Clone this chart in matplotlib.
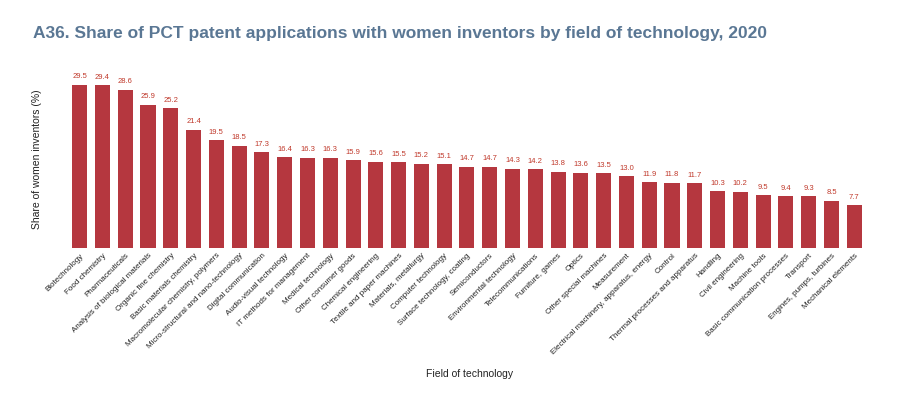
import matplotlib
matplotlib.use("Agg")
import matplotlib.pyplot as plt

fields = [
    "Biotechnology", "Food chemistry", "Pharmaceuticals",
    "Analysis of biological materials", "Organic fine chemistry",
    "Basic materials chemistry", "Macromolecular chemistry, polymers",
    "Micro-structural and nano-technology", "Digital communication",
    "Audio-visual technology", "IT methods for management",
    "Medical technology", "Other consumer goods", "Chemical engineering",
    "Textile and paper machines", "Materials, metallurgy",
    "Computer technology", "Surface technology, coating",
    "Semiconductors", "Environmental technology", "Telecommunications",
    "Furniture, games", "Optics", "Other special machines", "Measurement",
    "Electrical machinery, apparatus, energy", "Control",
    "Thermal processes and apparatus", "Handling", "Civil engineering",
    "Machine tools", "Basic communication processes", "Transport",
    "Engines, pumps, turbines", "Mechanical elements",
]
share = [29.5, 29.4, 28.6, 25.9, 25.2, 21.4, 19.5, 18.5, 17.3, 16.4,
         16.3, 16.3, 15.9, 15.6, 15.5, 15.2, 15.1, 14.7, 14.7, 14.3,
         14.2, 13.8, 13.6, 13.5, 13.0, 11.9, 11.8, 11.7, 10.3, 10.2,
         9.5, 9.4, 9.3, 8.5, 7.7]

plt.rcParams['font.family'] = ['Liberation Sans', 'DejaVu Sans']

bar_color = '#b5373f'
fig = plt.figure(figsize=(8.98, 3.98), dpi=100)
ax = fig.add_axes([0.0735, 0.377, 0.893, 0.445])

x = list(range(len(fields)))
ax.bar(x, share, width=0.66, color=bar_color)
for xi, v in zip(x, share):
    ax.text(xi, v + 0.8, f"{v:.1f}", ha='center', va='bottom',
            fontsize=5.5, color='#c0392b')

ax.set_xlim(-0.6, len(fields) - 0.4)
ax.set_ylim(0, 32)
ax.set_yticks([])
ax.set_xticks(x)
ax.set_xticklabels(fields, rotation=45, ha='right', rotation_mode='anchor',
                   fontsize=5.8, color='#222222')
ax.tick_params(axis='x', length=0, pad=3)
for s in ax.spines.values():
    s.set_visible(False)

ax.set_ylabel("Share of women inventors (%)", fontsize=7.5, color='#222222',
              labelpad=17)
fig.text(0.523, 0.06, "Field of technology", ha='center', va='center',
         fontsize=7.5, color='#222222')
fig.text(0.037, 0.917, "A36. Share of PCT patent applications with women inventors by field of technology, 2020",
         ha='left', va='center', fontsize=12.5, fontweight='bold',
         color='#5a7794')

fig.savefig("out.png", dpi=100)
